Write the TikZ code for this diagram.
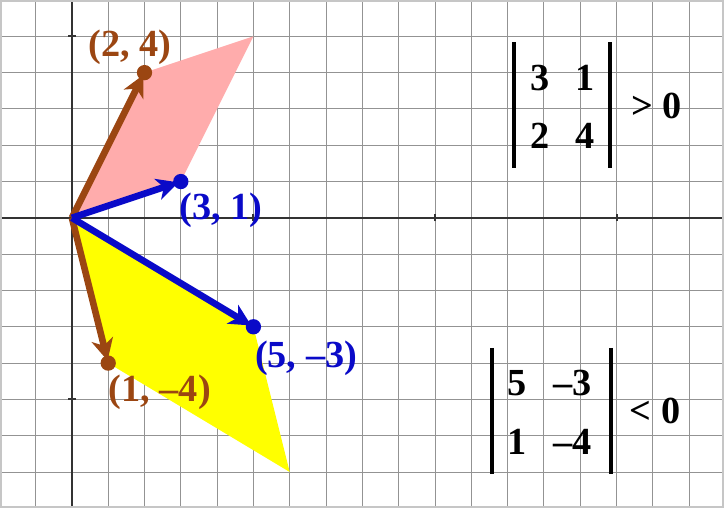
\documentclass[tikz,border=0pt]{standalone}
\usepackage{fontspec}
\setmainfont{Liberation Serif}
\usepackage{xcolor}
\usetikzlibrary{arrows.meta}
\definecolor{vecbrown}{RGB}{155,70,18}
\definecolor{vecblue}{RGB}{10,10,200}
\definecolor{areapink}{RGB}{255,172,172}
\definecolor{areayellow}{RGB}{255,255,0}
\tikzset{
    gridline/.style={draw=gray!85, line width=0.7pt},
    axis/.style={draw=black!80, line width=1.6pt},
    vec/.style={line width=5.2pt, -{Stealth[length=17pt, width=17pt, inset=5pt]}, shorten >=2pt},
    dot/.style={circle, inner sep=0pt, minimum size=12pt},
    lbl/.style={font=\fontsize{30}{32}\selectfont\bfseries},
    entry/.style={font=\fontsize{30}{32}\selectfont\bfseries},
    detbar/.style={line width=3.6pt}
}

\begin{document}
\begin{tikzpicture}
    \useasboundingbox (-1.98,-7.99) rectangle (17.96,6.0);

    % --- Grid and axes ---
    \clip (-1.98,-7.99) rectangle (17.96,6.0);
    \foreach \x in {-1,...,17} \draw[gridline] (\x,-8) -- (\x,6);
    \foreach \y in {-7,...,5} \draw[gridline] (-2,\y) -- (18,\y);
    \draw[axis] (-2,0) -- (18,0);
    \draw[axis] (0,-8) -- (0,6);
    \foreach \x in {5,10,15} \draw[axis] (\x,-0.1) -- (\x,0.1);
    \foreach \y in {-5,5} \draw[axis] (-0.1,\y) -- (0.1,\y);

    % --- Vectors ---
    \coordinate (O) at (0,0);
    \coordinate (u) at (2,4);
    \coordinate (v) at (3,1);
    \coordinate (p) at (5,-3);
    \coordinate (q) at (1,-4);

    % --- Parallelograms ---
    \fill[areapink] (O) -- (u) -- (5,5) -- (v) -- cycle;
    \fill[areayellow] (O) -- (p) -- (6,-7) -- (q) -- cycle;

    \draw[vec, vecbrown] (O) -- (u);
    \draw[vec, vecbrown] (O) -- (q);
    \draw[vec, vecblue] (O) -- (v);
    \draw[vec, vecblue] (O) -- (p);

    \node (udot) [dot, fill=vecbrown] at (u) {};
    \node (qdot) [dot, fill=vecbrown] at (q) {};
    \node (vdot) [dot, fill=vecblue] at (v) {};
    \node (pdot) [dot, fill=vecblue] at (p) {};

    \node (ulbl) [lbl, text=vecbrown] at (1.6,4.69) {(2, 4)};
    \node (vlbl) [lbl, text=vecblue] at (4.1,0.22) {(3, 1)};
    \node (plbl) [lbl, text=vecblue] at (6.45,-3.86) {(5, –3)};
    \node (qlbl) [lbl, text=vecbrown] at (2.42,-4.81) {(1, –4)};

    % --- Determinants ---
    \draw[detbar] (12.18,4.83) -- (12.18,1.36);
    \draw[detbar] (14.82,4.83) -- (14.82,1.36);
    \node (a11) [entry] at (12.89,3.86) {3};
    \node (a12) [entry] at (14.13,3.86) {1};
    \node (a21) [entry] at (12.89,2.25) {2};
    \node (a22) [entry] at (14.13,2.25) {4};
    \node (pos) [entry] at (16.1,3.08) {> 0};

    \draw[detbar] (11.57,-3.58) -- (11.57,-7.06);
    \draw[detbar] (14.85,-3.58) -- (14.85,-7.06);
    \node (b11) [entry] at (12.26,-4.56) {5};
    \node (b12) [entry] at (13.80,-4.56) {–3};
    \node (b21) [entry] at (12.26,-6.17) {1};
    \node (b22) [entry] at (13.80,-6.17) {–4};
    \node (neg) [entry] at (16.06,-5.33) {< 0};

    % --- Frame ---
    \draw[gray!45, line width=2.5pt] (-1.98,-7.99) rectangle (17.96,6.0);
\end{tikzpicture}
\end{document}
